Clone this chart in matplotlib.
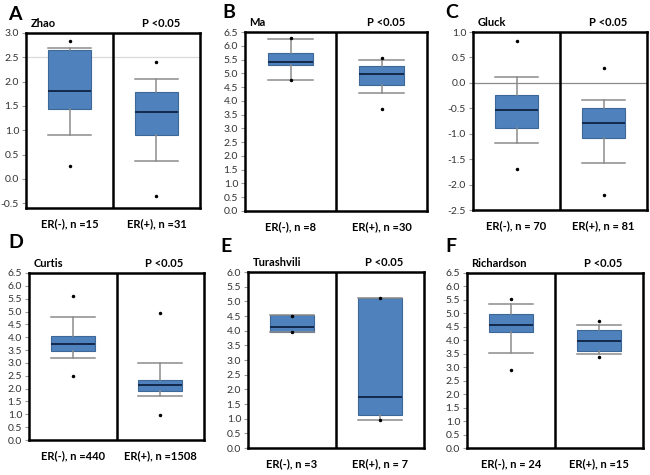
import matplotlib
matplotlib.use("Agg")
import matplotlib.pyplot as plt

plt.rcParams['font.family'] = ['Lato', 'DejaVu Sans']

# data for each panel (A-F)
panel_tags = ["A", "B", "C", "D", "E", "F"]
studies = ["Zhao", "Ma", "Gluck", "Curtis", "Turashvili", "Richardson"]
p_text = "P <0.05"
group_labels = [
    ["ER(-), n =15", "ER(+), n =31"],
    ["ER(-), n =8", "ER(+), n =30"],
    ["ER(-), n = 70", "ER(+), n = 81"],
    ["ER(-), n =440", "ER(+), n =1508"],
    ["ER(-), n =3", "ER(+), n = 7"],
    ["ER(-), n = 24", "ER(+), n =15"],
]
whislo = [[0.91, 0.36], [4.75, 4.28], [-1.19, -1.57], [3.19, 1.70], [3.97, 0.94], [3.53, 3.48]]
q1 = [[1.44, 0.91], [5.30, 4.58], [-0.88, -1.09], [3.45, 1.91], [3.97, 1.14], [4.30, 3.61]]
med = [[1.80, 1.37], [5.40, 4.96], [-0.54, -0.78], [3.74, 2.13], [4.14, 1.73], [4.58, 3.97]]
q3 = [[2.66, 1.78], [5.74, 5.28], [-0.24, -0.50], [4.05, 2.35], [4.53, 5.12], [4.96, 4.40]]
whishi = [[2.70, 2.05], [6.26, 5.48], [0.11, -0.33], [4.80, 2.99], [4.53, 5.12], [5.36, 4.58]]
fliers = [
    [[2.84, 0.27], [2.40, -0.36]],
    [[6.27, 4.75], [5.56, 3.72]],
    [[0.82, -1.70], [0.30, -2.20]],
    [[5.61, 2.50], [4.95, 0.99]],
    [[4.50, 3.97], [5.12, 0.94]],
    [[5.52, 2.89], [4.70, 3.39]],
]
ylims = [(-0.6, 3.0), (0, 6.5), (-2.5, 1.0), (0, 6.5), (0, 6.0), (0, 6.5)]
yticks = [
    [-0.5, 0.0, 0.5, 1.0, 1.5, 2.0, 2.5, 3.0],
    [x / 2 for x in range(14)],
    [-2.5, -2.0, -1.5, -1.0, -0.5, 0.0, 0.5, 1.0],
    [x / 2 for x in range(14)],
    [x / 2 for x in range(13)],
    [x / 2 for x in range(14)],
]
ref_lines = [2.5, None, 0.0, None, None, None]

# axes boxes in pixels (left, top, right, bottom) on a 650x475 canvas
W, H = 650, 475
frames = [(26, 33, 200, 208), (245, 32, 427, 211), (473, 32, 647, 210),
          (29, 273, 204, 440), (248, 272, 424, 448), (467, 273, 643, 448)]
tag_pos = [(8, 14), (222, 13), (445, 13), (8, 242), (220, 247), (445, 247)]

box_color = '#4f81bd'
fig = plt.figure(figsize=(6.5, 4.75), dpi=100)

for i in range(6):
    l, t, r, b = frames[i]
    ax = fig.add_axes([l / W, 1 - b / H, (r - l) / W, (b - t) / H])
    stats = []
    for g in range(2):
        stats.append(dict(whislo=whislo[i][g], q1=q1[i][g], med=med[i][g],
                          q3=q3[i][g], whishi=whishi[i][g], fliers=fliers[i][g]))
    ax.bxp(stats, positions=[1, 2], widths=0.5, capwidths=0.5, patch_artist=True,
           boxprops=dict(facecolor=box_color, edgecolor='#3c6796', linewidth=0.8),
           medianprops=dict(color='#13294b', linewidth=1.4),
           whiskerprops=dict(color='#8c8c8c', linewidth=1.1),
           capprops=dict(color='#8c8c8c', linewidth=1.1),
           flierprops=dict(marker='o', markersize=1.5, markerfacecolor='black',
                           markeredgecolor='black'))
    if ref_lines[i] is not None:
        col = '#d9d9d9' if i == 0 else '#8c8c8c'
        ax.axhline(ref_lines[i], color=col, linewidth=0.9, zorder=0)
    ax.axvline(1.5, color='black', linewidth=1.8)
    ax.set_xlim(0.5, 2.5)
    ax.set_ylim(*ylims[i])
    ax.set_yticks(yticks[i])
    ax.set_yticklabels(['%.1f' % v for v in yticks[i]])
    ax.tick_params(axis='y', labelsize=7.5, length=3, color='#999999', labelcolor='#333333', pad=2)
    ax.set_xticks([1, 2])
    ax.set_xticklabels(group_labels[i], fontsize=8, fontweight='bold')
    ax.tick_params(axis='x', length=0, pad=7)
    for s in ax.spines.values():
        s.set_linewidth(1.8)
        s.set_color('black')
    ax.text(0.55, 1.025, studies[i], transform=ax.get_xaxis_transform(),
            fontsize=8, fontweight='bold', ha='left', va='bottom')
    ax.text(2.05, 1.025, p_text, transform=ax.get_xaxis_transform(),
            fontsize=8, fontweight='bold', ha='center', va='bottom')
    fig.text(tag_pos[i][0] / W, 1 - tag_pos[i][1] / H, panel_tags[i],
             fontsize=14, fontweight='bold', ha='left', va='center')

fig.savefig('out.png', dpi=100)
